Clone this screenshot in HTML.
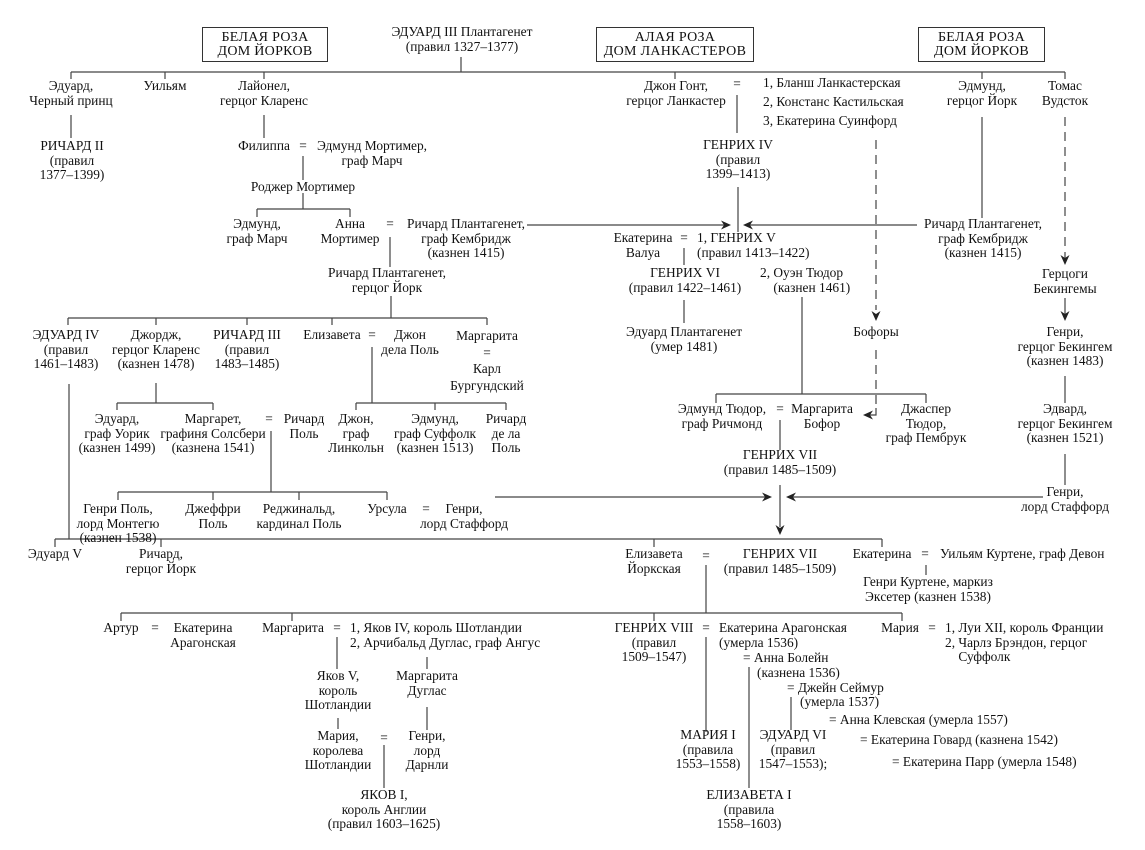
<!DOCTYPE html>
<html><head><meta charset="utf-8"><style>
body{margin:0;background:#fff}
#w{position:relative;width:1145px;height:850px;overflow:hidden;font-family:"Liberation Serif","DejaVu Serif",serif;font-size:13.4px;line-height:14.5px;color:#111}
.c{position:absolute;transform:translateX(-50%);text-align:center;white-space:nowrap}
.l{position:absolute;white-space:nowrap}
.b{position:absolute;border:1.3px solid #333;text-align:center;font-size:14px;line-height:14px;padding-top:3px;box-sizing:border-box;letter-spacing:0.3px}
svg{position:absolute;left:0;top:0}
</style></head><body><div id="w">
<svg width="1145" height="850" stroke="#444" stroke-width="1.2" fill="none">
<path d="M461 57V72M71 72H1065M71 72V79M165 72V79M264 72V79M675 72V79M982 72V79M1065 72V79"/>
<path d="M71 115V138M264 115V138M303 156V180M303 193V209M257 209H350M257 209V217M350 209V217M390 237V267"/>
<path d="M527 225H725M917 225H749"/>
<path d="M737 95V133M738 187V232M982 117V218M684 248V265M684 300V323"/>
<path d="M876 140V310M1065 117V258" stroke-dasharray="9,6"/>
<path d="M876 350V408" stroke-dasharray="9,6"/>
<path d="M876 408V415H869M1065 298V314"/>
<path d="M391 296V318M68 318H487M68 318V325M156 318V325M247 318V325M332 318V325M487 318V325"/>
<path d="M372 347V403M356 403H506M356 403V410M435 403V410M506 403V410"/>
<path d="M156 383V403M117 403H213M117 403V410M213 403V410"/>
<path d="M271 431V492M118 492H387M118 492V500M213 492V500M299 492V500M387 492V500"/>
<path d="M495 497H766M1043 497H792"/>
<path d="M69 384V539M55 539H882M55 539V547M161 539V547M654 539V547M882 539V547"/>
<path d="M802 297V394M716 394H926M716 394V403M926 394V403M780 420V450M780 485V527"/>
<path d="M1065 376V403M1065 454V485"/>
<path d="M926 565V575M706 565V613M121 613H902M121 613V621M292 613V621M654 613V621M902 613V621"/>
<path d="M706 637V732M749 667V788M791 697V730"/>
<path d="M337 637V669M427 657V669M338 718V729M427 707V730M384 745V788"/>
<g fill="#222" stroke="none">
<path d="M731 225l-10-4.5 3 4.5-3 4.5z"/>
<path d="M743 225l10-4.5-3 4.5 3 4.5z"/>
<path d="M876 321l-4.5-10 4.5 3 4.5-3z"/>
<path d="M1065 265l-4.5-10 4.5 3 4.5-3z"/>
<path d="M1065 321l-4.5-10 4.5 3 4.5-3z"/>
<path d="M863 415l10-4.5-3 4.5 3 4.5z"/>
<path d="M772 497l-10-4.5 3 4.5-3 4.5z"/>
<path d="M786 497l10-4.5-3 4.5 3 4.5z"/>
<path d="M780 535l-4.5-10 4.5 3 4.5-3z"/>
</g>
</svg>

<div class="b" style="left:202px;top:27px;width:126px;height:35px">БЕЛАЯ РОЗА<br>ДОМ ЙОРКОВ</div>
<div class="b" style="left:596px;top:27px;width:158px;height:35px">АЛАЯ РОЗА<br>ДОМ ЛАНКАСТЕРОВ</div>
<div class="b" style="left:918px;top:27px;width:127px;height:35px">БЕЛАЯ РОЗА<br>ДОМ ЙОРКОВ</div>

<div class="c" style="left:462px;top:25px">ЭДУАРД III Плантагенет<br>(правил 1327–1377)</div>
<div class="c" style="left:71px;top:79px">Эдуард,<br>Черный принц</div>
<div class="c" style="left:165px;top:79px">Уильям</div>
<div class="c" style="left:264px;top:79px">Лайонел,<br>герцог Кларенс</div>
<div class="c" style="left:72px;top:139px">РИЧАРД II<br>(правил<br>1377–1399)</div>
<div class="c" style="left:264px;top:139px">Филиппа</div>
<div class="c" style="left:303px;top:139px">=</div>
<div class="c" style="left:372px;top:139px">Эдмунд Мортимер,<br>граф Марч</div>
<div class="c" style="left:303px;top:180px">Роджер Мортимер</div>
<div class="c" style="left:257px;top:217px">Эдмунд,<br>граф Марч</div>
<div class="c" style="left:350px;top:217px">Анна<br>Мортимер</div>
<div class="c" style="left:390px;top:217px">=</div>
<div class="c" style="left:466px;top:217px">Ричард Плантагенет,<br>граф Кембридж<br>(казнен 1415)</div>
<div class="c" style="left:387px;top:266px">Ричард Плантагенет,<br>герцог Йорк</div>

<div class="c" style="left:676px;top:79px">Джон Гонт,<br>герцог Ланкастер</div>
<div class="c" style="left:737px;top:77px">=</div>
<div class="l" style="left:763px;top:76px">1, Бланш Ланкастерская</div>
<div class="l" style="left:763px;top:95px">2, Констанс Кастильская</div>
<div class="l" style="left:763px;top:114px">3, Екатерина Суинфорд</div>
<div class="c" style="left:982px;top:79px">Эдмунд,<br>герцог Йорк</div>
<div class="c" style="left:1065px;top:79px">Томас<br>Вудсток</div>
<div class="c" style="left:738px;top:138px">ГЕНРИХ IV<br>(правил<br>1399–1413)</div>
<div class="c" style="left:983px;top:217px">Ричард Плантагенет,<br>граф Кембридж<br>(казнен 1415)</div>
<div class="c" style="left:643px;top:231px">Екатерина<br>Валуа</div>
<div class="c" style="left:684px;top:231px">=</div>
<div class="l" style="left:697px;top:231px">1, ГЕНРИХ V<br>(правил 1413–1422)</div>
<div class="c" style="left:685px;top:266px">ГЕНРИХ VI<br>(правил 1422–1461)</div>
<div class="l" style="left:760px;top:266px">2, Оуэн Тюдор<br>&nbsp;&nbsp;&nbsp;&nbsp;(казнен 1461)</div>
<div class="c" style="left:1065px;top:267px">Герцоги<br>Бекингемы</div>

<div class="c" style="left:66px;top:328px">ЭДУАРД IV<br>(правил<br>1461–1483)</div>
<div class="c" style="left:156px;top:328px">Джордж,<br>герцог Кларенс<br>(казнен 1478)</div>
<div class="c" style="left:247px;top:328px">РИЧАРД III<br>(правил<br>1483–1485)</div>
<div class="c" style="left:332px;top:328px">Елизавета</div>
<div class="c" style="left:372px;top:328px">=</div>
<div class="c" style="left:410px;top:328px">Джон<br>дела Поль</div>
<div class="c" style="left:487px;top:328px;line-height:16.5px">Маргарита<br>=<br>Карл<br>Бургундский</div>
<div class="c" style="left:684px;top:325px">Эдуард Плантагенет<br>(умер 1481)</div>
<div class="c" style="left:876px;top:325px">Бофоры</div>
<div class="c" style="left:1065px;top:325px">Генри,<br>герцог Бекингем<br>(казнен 1483)</div>

<div class="c" style="left:117px;top:412px">Эдуард,<br>граф Уорик<br>(казнен 1499)</div>
<div class="c" style="left:213px;top:412px">Маргарет,<br>графиня Солсбери<br>(казнена 1541)</div>
<div class="c" style="left:269px;top:412px">=</div>
<div class="c" style="left:304px;top:412px">Ричард<br>Поль</div>
<div class="c" style="left:356px;top:412px">Джон,<br>граф<br>Линкольн</div>
<div class="c" style="left:435px;top:412px">Эдмунд,<br>граф Суффолк<br>(казнен 1513)</div>
<div class="c" style="left:506px;top:412px">Ричард<br>де ла<br>Поль</div>
<div class="c" style="left:722px;top:402px">Эдмунд Тюдор,<br>граф Ричмонд</div>
<div class="c" style="left:780px;top:402px">=</div>
<div class="c" style="left:822px;top:402px">Маргарита<br>Бофор</div>
<div class="c" style="left:926px;top:402px">Джаспер<br>Тюдор,<br>граф Пембрук</div>
<div class="c" style="left:1065px;top:402px">Эдвард,<br>герцог Бекингем<br>(казнен 1521)</div>
<div class="c" style="left:780px;top:448px">ГЕНРИХ VII<br>(правил 1485–1509)</div>

<div class="c" style="left:118px;top:502px">Генри Поль,<br>лорд Монтегю<br>(казнен 1538)</div>
<div class="c" style="left:213px;top:502px">Джеффри<br>Поль</div>
<div class="c" style="left:299px;top:502px">Реджинальд,<br>кардинал Поль</div>
<div class="c" style="left:387px;top:502px">Урсула</div>
<div class="c" style="left:426px;top:502px">=</div>
<div class="c" style="left:464px;top:502px">Генри,<br>лорд Стаффорд</div>
<div class="c" style="left:1065px;top:485px">Генри,<br>лорд Стаффорд</div>

<div class="c" style="left:55px;top:547px">Эдуард V</div>
<div class="c" style="left:161px;top:547px">Ричард,<br>герцог Йорк</div>
<div class="c" style="left:654px;top:547px">Елизавета<br>Йоркская</div>
<div class="c" style="left:706px;top:549px">=</div>
<div class="c" style="left:780px;top:547px">ГЕНРИХ VII<br>(правил 1485–1509)</div>
<div class="c" style="left:882px;top:547px">Екатерина</div>
<div class="c" style="left:925px;top:547px">=</div>
<div class="l" style="left:940px;top:547px">Уильям Куртене, граф Девон</div>
<div class="c" style="left:928px;top:575px">Генри Куртене, маркиз<br>Экcетер (казнен 1538)</div>

<div class="c" style="left:121px;top:621px">Артур</div>
<div class="c" style="left:155px;top:621px">=</div>
<div class="c" style="left:203px;top:621px">Екатерина<br>Арагонская</div>
<div class="c" style="left:293px;top:621px">Маргарита</div>
<div class="c" style="left:337px;top:621px">=</div>
<div class="l" style="left:350px;top:621px">1, Яков IV, король Шотландии<br>2, Арчибальд Дуглас, граф Ангус</div>
<div class="c" style="left:654px;top:621px">ГЕНРИХ VIII<br>(правил<br>1509–1547)</div>
<div class="c" style="left:706px;top:621px">=</div>
<div class="l" style="left:719px;top:621px">Екатерина Арагонская<br>(умерла 1536)</div>
<div class="l" style="left:743px;top:651px">= Анна Болейн</div>
<div class="l" style="left:757px;top:666px">(казнена 1536)</div>
<div class="l" style="left:787px;top:681px">= Джейн Сеймур</div>
<div class="l" style="left:800px;top:695px">(умерла 1537)</div>
<div class="l" style="left:829px;top:713px">= Анна Клевская (умерла 1557)</div>
<div class="l" style="left:860px;top:733px">= Екатерина Говард (казнена 1542)</div>
<div class="l" style="left:892px;top:755px">= Екатерина Парр (умерла 1548)</div>
<div class="c" style="left:900px;top:621px">Мария</div>
<div class="c" style="left:932px;top:621px">=</div>
<div class="l" style="left:945px;top:621px">1, Луи XII, король Франции<br>2, Чарлз Брэндон, герцог<br>&nbsp;&nbsp;&nbsp;&nbsp;Суффолк</div>

<div class="c" style="left:338px;top:669px">Яков V,<br>король<br>Шотландии</div>
<div class="c" style="left:427px;top:669px">Маргарита<br>Дуглас</div>
<div class="c" style="left:338px;top:729px">Мария,<br>королева<br>Шотландии</div>
<div class="c" style="left:384px;top:731px">=</div>
<div class="c" style="left:427px;top:729px">Генри,<br>лорд<br>Дарнли</div>
<div class="c" style="left:708px;top:728px">МАРИЯ I<br>(правила<br>1553–1558)</div>
<div class="c" style="left:793px;top:728px">ЭДУАРД VI<br>(правил<br>1547–1553);</div>
<div class="c" style="left:384px;top:788px">ЯКОВ I,<br>король Англии<br>(правил 1603–1625)</div>
<div class="c" style="left:749px;top:788px">ЕЛИЗАВЕТА I<br>(правила<br>1558–1603)</div>
</div></body></html>
